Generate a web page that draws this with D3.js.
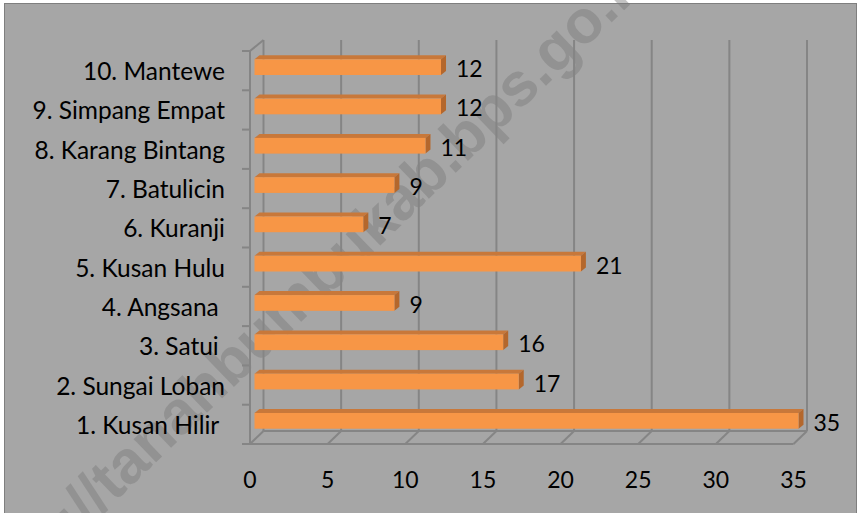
<!DOCTYPE html>
<html>
<head>
<meta charset="utf-8">
<script src="https://cdn.jsdelivr.net/npm/d3@7"></script>
<style>
  body { margin: 0; background: #fff; }
  svg { display: block; }
  text { font-family: Lato, "Open Sans", sans-serif; white-space: pre; }
</style>
</head>
<body>
<div id="chart"></div>
<script>
const width = 859;
const height = 513;

// data, bottom to top as in the picture
const categories = [
  '1. Kusan Hilir ',
  '2. Sungai Loban',
  '3. Satui ',
  '4. Angsana ',
  '5. Kusan Hulu',
  '6. Kuranji',
  '7. Batulicin',
  '8. Karang Bintang',
  '9. Simpang Empat',
  '10. Mantewe'
];
const values = [35, 17, 16, 9, 21, 7, 9, 11, 12, 12];
const xTicks = [0, 5, 10, 15, 20, 25, 30, 35];
const watermark = 'http://tanahbumbukab.bps.go.id';

const rows = categories.map((c, i) => ({ name: c, value: values[i] }));

// 3d box geometry
const depthX = 13.5; // back wall sits right of the front edge
const box = { frontTop: 51, frontBottom: 444, backTop: 40, backBottom: 431 };

const svg = d3.select('#chart')
  .append('svg')
  .attr('width', width)
  .attr('height', height);

svg.append('rect')
  .attr('x', 4.5).attr('y', 3.5)
  .attr('width', 852).attr('height', 520)
  .attr('fill', '#a6a6a6')
  .attr('stroke', '#7f7f7f');

// watermark sits behind the plot
svg.append('text')
  .attr('transform', 'translate(326,298) rotate(-44)')
  .attr('text-anchor', 'middle')
  .style('font-family', '"Liberation Sans", Arial, sans-serif')
  .style('font-weight', 'bold')
  .style('font-size', '61px')
  .attr('fill', '#7a7a7a')
  .attr('fill-opacity', 0.45)
  .text(watermark);

const xBack = d3.scaleLinear().domain([0, 35]).range([263.5, 807]);
const xFront = (v) => xBack(v) - depthX;
const xBar = d3.scaleLinear().domain([0, 35]).range([254.5, 798.5]);

// category bands on the front left edge (top to bottom)
const order = categories.slice().reverse();
const yFront = d3.scaleBand().domain(order).range([box.frontTop, box.frontBottom]);
const yBar = d3.scaleBand().domain(order).range([47.5, 440.5])
  .paddingInner(0.6).paddingOuter(0.3);

const gridColor = '#858585';
const grid = svg.append('g')
  .attr('fill', 'none')
  .attr('stroke', gridColor)
  .attr('stroke-width', 2);

// back wall gridlines
grid.selectAll('line.gv')
  .data(xTicks)
  .join('line')
  .attr('class', 'gv')
  .attr('x1', (d) => xBack(d)).attr('x2', (d) => xBack(d))
  .attr('y1', box.backTop).attr('y2', box.backBottom);

// floor diagonals
grid.selectAll('line.fd')
  .data(xTicks)
  .join('line')
  .attr('class', 'fd')
  .attr('x1', (d) => xBack(d)).attr('y1', box.backBottom)
  .attr('x2', (d) => xFront(d)).attr('y2', box.frontBottom);

// floor back edge, front edge
grid.append('line')
  .attr('x1', xBack(0)).attr('x2', xBack(35))
  .attr('y1', box.backBottom).attr('y2', box.backBottom);
grid.append('line')
  .attr('x1', xFront(0) - 8).attr('x2', xFront(35))
  .attr('y1', box.frontBottom).attr('y2', box.frontBottom);

// left wall front edge and top diagonal
grid.append('line')
  .attr('x1', xFront(0)).attr('x2', xFront(0))
  .attr('y1', box.frontTop).attr('y2', box.frontBottom);
grid.append('line')
  .attr('x1', xFront(0)).attr('y1', box.frontTop)
  .attr('x2', xBack(0)).attr('y2', box.backTop);

// category tick marks
grid.selectAll('line.tk')
  .data(order)
  .join('line')
  .attr('class', 'tk')
  .attr('x1', xFront(0) - 8).attr('x2', xFront(0))
  .attr('y1', (d) => yFront(d)).attr('y2', (d) => yFront(d));

// bars: top face, side face, front face
const dx = 5, dy = 4;
const bars = svg.append('g').attr('class', 'bars');
const bar = bars.selectAll('g')
  .data(rows)
  .join('g');

bar.append('path')
  .attr('fill', '#c8783a')
  .attr('d', (d) => {
    const x0 = xBar(0), x1 = xBar(d.value), y = yBar(d.name);
    return `M${x0},${y}L${x0 + dx},${y - dy}L${x1 + dx},${y - dy}L${x1},${y}Z`;
  });

bar.append('path')
  .attr('fill', '#b4672c')
  .attr('d', (d) => {
    const x1 = xBar(d.value), y = yBar(d.name), h = yBar.bandwidth();
    return `M${x1},${y}L${x1 + dx},${y - dy}L${x1 + dx},${y + h - dy}L${x1},${y + h}Z`;
  });

bar.append('rect')
  .attr('fill', '#f79646')
  .attr('x', xBar(0))
  .attr('y', (d) => yBar(d.name))
  .attr('width', (d) => xBar(d.value) - xBar(0))
  .attr('height', yBar.bandwidth());

// value labels
bar.append('text')
  .attr('x', (d) => xBar(d.value) + dx + 10)
  .attr('y', (d) => yBar(d.name) + yBar.bandwidth() / 2 + 10)
  .style('font-size', '23px')
  .attr('fill', '#000')
  .text((d) => d.value);

// category labels
svg.append('g')
  .selectAll('text')
  .data(order)
  .join('text')
  .attr('x', 225)
  .attr('y', (d) => yFront(d) + yFront.bandwidth() / 2 + 9.5)
  .attr('text-anchor', 'end')
  .style('font-size', '24.5px')
  .attr('fill', '#000')
  .text((d) => d);

// x tick labels
svg.append('g')
  .selectAll('text')
  .data(xTicks)
  .join('text')
  .attr('x', (d) => xFront(d))
  .attr('y', 487.5)
  .attr('text-anchor', 'middle')
  .style('font-size', '23px')
  .attr('fill', '#000')
  .text((d) => d);
</script>
</body>
</html>
